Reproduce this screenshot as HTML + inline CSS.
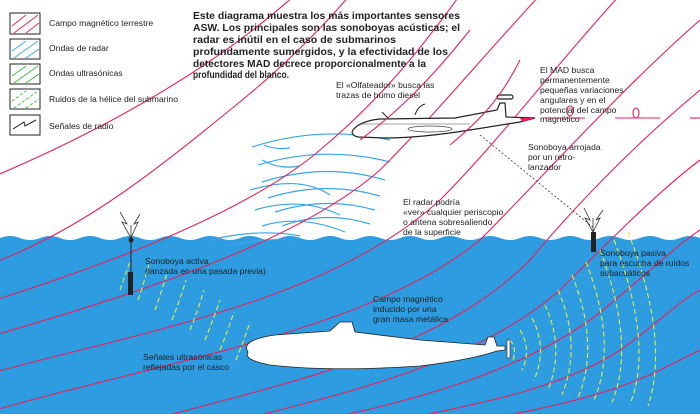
<!DOCTYPE html>
<html><head><meta charset="utf-8"><style>
html,body{margin:0;padding:0;background:#fff}
svg{display:block}
text{font-family:"Liberation Sans",sans-serif;fill:#222}
.b{font-family:"Liberation Sans",sans-serif;font-weight:bold;font-size:10.5px;fill:#111}
.s{font-size:8.6px}
</style></head><body>
<svg width="700" height="414" viewBox="0 0 700 414" xmlns="http://www.w3.org/2000/svg">
<path d="M0,238 Q10,234 20,238 T40,238 T60,238 T80,238 T100,238 T120,238 T140,238 T160,238 T180,238 T200,238 T220,238 T240,238 T260,238 T280,238 T300,238 T320,238 T340,238 T360,238 T380,238 T400,238 T420,238 T440,238 T460,238 T480,238 T500,238 T520,238 T540,238 T560,238 T580,238 T600,238 T620,238 T640,238 T660,238 T680,238 T700,238 L700,414 L0,414Z" fill="#2d9ce0"/>
<g fill="none" stroke="#3aa6ea" stroke-width="1.2">
<path d="M252,147 Q320,125 390,140"/><path d="M258,165 Q325,145 390,162"/><path d="M262,182 Q325,162 385,180"/>
<path d="M268,198 Q325,180 380,196"/><path d="M275,212 Q325,196 375,210"/><path d="M282,226 Q325,210 370,224"/>
<path d="M210,240 Q260,228 300,236"/><path d="M225,246 Q260,238 290,240"/>
<path d="M250,190 Q300,175 330,195"/><path d="M255,210 Q300,196 340,215"/><path d="M262,226 Q300,214 345,232"/>
<path d="M264,145 Q275,150 290,148"/><path d="M262,160 Q280,170 300,166"/>
</g>
<g fill="none" stroke="#e8205a" stroke-width="1.1">
<path d="M-5,176 C80,140 200,80 295,-5"/>
<path d="M-5,262 C80,230 150,175 230,110 C280,70 320,30 350,-5"/>
<path d="M-5,300 C120,260 250,210 320,150 C380,100 420,50 460,-5"/>
<path d="M-5,335 C150,290 300,240 380,170 C430,120 480,60 540,-5"/>
<path d="M-5,372 C150,330 330,300 440,200 C500,140 560,60 620,-5"/>
<path d="M-5,410 C170,360 370,330 480,240 C540,180 620,90 700,20"/>
<path d="M150,420 C300,380 440,350 530,260 C580,200 640,140 700,90"/>
<path d="M240,420 C360,390 480,360 560,290 C610,240 660,190 700,160"/>
<path d="M320,420 C420,400 520,370 590,320 C630,290 670,250 700,230"/>
<path d="M400,420 C470,405 560,390 620,350 C650,330 680,300 700,290"/>
<path d="M480,420 C540,410 610,395 660,370 L700,350"/>
</g>
<g fill="none" stroke="#e4f03a" stroke-width="1.1" stroke-dasharray="5 3">
<path d="M120,290 Q125,275 130,262"/><path d="M138,300 Q145,280 150,260"/><path d="M155,310 Q162,290 168,270"/>
<path d="M172,320 Q180,300 186,280"/><path d="M190,330 Q198,310 204,290"/><path d="M205,340 Q213,320 220,300"/>
<path d="M220,350 Q228,330 234,312"/><path d="M236,360 Q244,340 250,322"/>
<path d="M510,340 Q518,350 512,362"/><path d="M520,330 Q532,350 522,370"/><path d="M532,318 Q548,348 534,380"/>
<path d="M545,305 Q565,348 548,390"/><path d="M558,290 Q582,345 562,395"/><path d="M572,275 Q600,345 578,398"/>
<path d="M586,262 Q618,345 594,400"/><path d="M600,250 Q636,345 612,402"/><path d="M614,240 Q654,345 630,404"/>
<path d="M628,232 Q670,340 648,406"/>
</g>
<path d="M480,135 L594,228" stroke="#333" stroke-width="0.8" stroke-dasharray="2 2" fill="none"/>
<line x1="131" y1="240" x2="131" y2="272" stroke="#222"/><rect x="128" y="272" width="5" height="23" fill="#222"/><circle cx="131" cy="240" r="2.5" fill="#222"/>
<path d="M131,238 L122,222 L127,224 L120,212 M131,238 L138,222 L134,224 L140,214 M131,238 L131,225" stroke="#333" fill="none" stroke-width="0.8"/>
<rect x="591" y="232" width="5" height="20" fill="#222"/>
<path d="M593,232 L585,218 L590,220 L584,208 M593,232 L600,218 L596,220 L603,210 M593,232 L593,218" stroke="#333" fill="none" stroke-width="0.8"/>
<g stroke="#222" stroke-width="1.2" fill="#fff">
<path d="M455,118 L497,110 L500,103 L505,103 L506,117 L535,118 L520,122 L470,130 Q420,138 385,138 L358,137 Q350,135 353,130 Q360,121 380,119 Z"/>
<rect x="497" y="95" width="16" height="4" rx="2"/>
</g>
<path d="M520,118 L535,118 L522,122Z" fill="#e8205a"/>
<path d="M360,124 L470,124" stroke="#444" stroke-width="0.6"/>
<ellipse cx="430" cy="129" rx="22" ry="3" fill="none" stroke="#444" stroke-width="0.7"/>
<g fill="none" stroke="#e8205a" stroke-width="1.1">
<path d="M360,140 C400,110 430,80 470,30"/><path d="M450,145 C480,120 500,100 520,60"/>
</g>
<path d="M382,112 L388,118 M415,115 Q418,106 425,104" stroke="#222" fill="none"/>
<g stroke="#e8205a" fill="none" stroke-width="1.1">
<line x1="545" y1="118" x2="585" y2="118"/><line x1="615" y1="118" x2="660" y2="118"/><line x1="690" y1="118" x2="700" y2="118"/>
<ellipse cx="636" cy="113" rx="3" ry="5"/><ellipse cx="570" cy="111" rx="3" ry="5"/>
</g>
<path d="M248,352 Q240,340 275,335 L330,331 L340,322 L352,322 L355,332 L420,340 L485,345 L488,337 L494,337 L497,346 L505,346 L505,350 L497,351 Q470,360 420,366 Q330,372 270,365 Q243,360 248,352Z" fill="#fff" stroke="#222" stroke-width="0.8"/>
<rect x="507" y="340" width="3" height="18" fill="#fff" stroke="#222" stroke-width="0.6"/>
<g stroke="#222" stroke-width="1" fill="#fff">
<rect x="10" y="13" width="30" height="21"/><rect x="10" y="39" width="30" height="20"/><rect x="10" y="64" width="30" height="20"/><rect x="10" y="89" width="30" height="20"/><rect x="10" y="115" width="30" height="20"/>
</g>
<g stroke="#e8205a" stroke-width="0.9"><line x1="12" y1="26" x2="26" y2="15"/><line x1="14" y1="33" x2="38" y2="15"/><line x1="26" y1="33" x2="39" y2="23"/></g>
<g stroke="#3aa6ea" stroke-width="0.9"><line x1="12" y1="51" x2="26" y2="41"/><line x1="14" y1="58" x2="38" y2="41"/><line x1="26" y1="58" x2="39" y2="49"/></g>
<g stroke="#3bb83b" stroke-width="0.9"><line x1="12" y1="76" x2="26" y2="66"/><line x1="14" y1="83" x2="38" y2="66"/><line x1="26" y1="83" x2="39" y2="74"/></g>
<g stroke="#3bb83b" stroke-width="0.9" stroke-dasharray="3 2"><line x1="12" y1="101" x2="26" y2="91"/><line x1="14" y1="108" x2="38" y2="91"/><line x1="26" y1="108" x2="39" y2="99"/></g>
<path d="M13,129 L24,122 L25,126 L36,120" stroke="#222" fill="none"/>
<g class="s">
<text x="49" y="26">Campo magnético terrestre</text>
<text x="49" y="51">Ondas de radar</text>
<text x="49" y="76">Ondas ultrasónicas</text>
<text x="49" y="102">Ruidos de la hélice del submarino</text>
<text x="49" y="129">Señales de radio</text>
</g>
<g class="b">
<text x="193" y="19" textLength="267" lengthAdjust="spacingAndGlyphs">Este diagrama muestra los más importantes sensores</text>
<text x="193" y="31" textLength="267" lengthAdjust="spacingAndGlyphs">ASW. Los principales son las sonoboyas acústicas; el</text>
<text x="193" y="43" textLength="203" lengthAdjust="spacingAndGlyphs">radar es inútil en el caso de submarinos</text>
<text x="193" y="55" textLength="255" lengthAdjust="spacingAndGlyphs">profundamente sumergidos, y la efectividad de los</text>
<text x="193" y="67" textLength="233" lengthAdjust="spacingAndGlyphs">detectores MAD decrece proporcionalmente a la</text>
<text x="193" y="78" textLength="96" lengthAdjust="spacingAndGlyphs">profundidad del blanco.</text>
</g>
<g class="s">
<text x="336" y="88">El «Olfateador» busca las</text>
<text x="336" y="98">trazas de humo diesel</text>
<text x="540" y="73">El MAD busca</text>
<text x="540" y="83">permanentemente</text>
<text x="540" y="93">pequeñas variaciones</text>
<text x="540" y="103">angulares y en el</text>
<text x="540" y="113">potencial del campo</text>
<text x="540" y="122">magnético</text>
<text x="528" y="150">Sonoboya arrojada</text>
<text x="528" y="160">por un retro-</text>
<text x="528" y="170">lanzador</text>
<text x="403" y="205">El radar podría</text>
<text x="403" y="215">«ver» cualquier periscopio</text>
<text x="403" y="225">o antena sobresaliendo</text>
<text x="403" y="235">de la superficie</text>
<text x="145" y="264">Sonoboya activa</text>
<text x="145" y="274">(lanzada en una pasada previa)</text>
<text x="600" y="256">Sonoboya pasiva</text>
<text x="600" y="266">para escucha de ruidos</text>
<text x="600" y="276">subacuáticos</text>
<text x="373" y="302">Campo magnético</text>
<text x="373" y="312">inducido por una</text>
<text x="373" y="322">gran masa metálica</text>
<text x="143" y="360">Señales ultrasónicas</text>
<text x="143" y="370">reflejadas por el casco</text>
</g>
</svg>
</body></html>
